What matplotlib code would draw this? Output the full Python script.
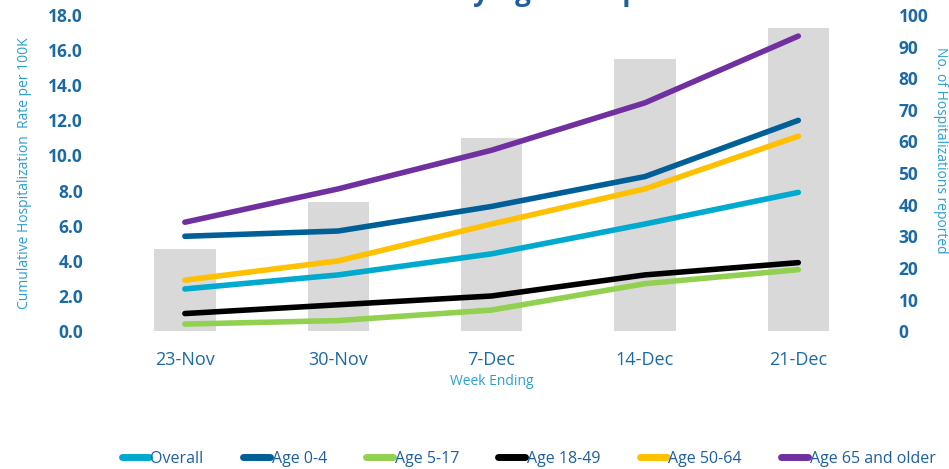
import matplotlib.pyplot as plt
from matplotlib.lines import Line2D
import numpy as np

weeks = ['23-Nov', '30-Nov', '7-Dec', '14-Dec', '21-Dec']
hosp_counts = [26, 41, 61, 86, 96]

series_names = ['Overall', 'Age 0-4', 'Age 5-17', 'Age 18-49', 'Age 50-64', 'Age 65 and older']
overall = [2.4, 3.2, 4.4, 6.1, 7.9]
age_0_4 = [5.4, 5.7, 7.1, 8.8, 12.0]
age_5_17 = [0.4, 0.6, 1.2, 2.7, 3.5]
age_18_49 = [1.0, 1.5, 2.0, 3.2, 3.9]
age_50_64 = [2.9, 4.0, 6.1, 8.1, 11.1]
age_65_up = [6.2, 8.1, 10.3, 13.0, 16.8]

colors = ['#00a9ce', '#005f96', '#92d050', '#000000', '#ffc000', '#7030a0']
tick_col = '#1b6aa5'
label_col = '#2a9fd0'

plt.rcParams['font.family'] = ['Open Sans', 'DejaVu Sans']

fig = plt.figure(figsize=(9.49, 4.69), dpi=100)
ax = fig.add_axes([0.114, 0.294, 0.808, 0.674])
ax2 = ax.twinx()
x = np.arange(len(weeks))

# bars on the secondary (right) scale, drawn behind the lines
ax.bar(x, hosp_counts, width=0.4, color='#d9d9d9', zorder=1)
ax.set_ylim(0, 100)
ax.set_xlim(-0.5, len(weeks) - 0.5)
ax.yaxis.tick_right()
ax.set_yticks(range(0, 101, 10))
fig.text(0.991, 0.68, 'No. of Hospitalizations reported', color=label_col, fontsize=10,
         rotation=270, ha='center', va='center')

# lines on the left scale
ax2.yaxis.tick_left()
ax2.yaxis.set_label_position('left')
for vals, c in zip([overall, age_0_4, age_5_17, age_18_49, age_50_64, age_65_up], colors):
    ax2.plot(x, vals, color=c, lw=4, solid_capstyle='round', solid_joinstyle='round')
ax2.set_ylim(0, 18)
ax2.set_yticks(np.arange(0, 18.1, 2))
ax2.set_yticklabels([f'{v:.1f}' for v in np.arange(0, 18.1, 2)])
ax2.set_ylabel('Cumulative Hospitalization  Rate per 100K', color=label_col, fontsize=10,
               labelpad=12)

ax.set_xticks(x)
ax.set_xticklabels(weeks)
ax.set_xlabel('Week Ending', color=label_col, fontsize=10, labelpad=4)

for a in (ax, ax2):
    for s in a.spines.values():
        s.set_visible(False)
    a.tick_params(length=0)
ax.tick_params(axis='x', pad=14, labelsize=13, labelcolor=tick_col)
ax.tick_params(axis='y', pad=17, labelsize=12.5, labelcolor=tick_col)
ax2.tick_params(axis='y', pad=18, labelsize=12.5, labelcolor=tick_col)
for lbl in ax.get_yticklabels() + ax2.get_yticklabels():
    lbl.set_fontweight('bold')

# title is cut off at the top edge of the image
fig.text(0.674, 1.0, 'Cumulative Rates by Age Group', ha='right', va='baseline',
         fontsize=20, fontweight='bold', color='#1f5fa0')

handles = [Line2D([], [], color=c, lw=5, solid_capstyle='round') for c in colors]
leg = fig.legend(handles, series_names, loc='center', bbox_to_anchor=(0.557, 0.022),
                 ncol=6, frameon=False, fontsize=11.5, handlelength=1.7,
                 handletextpad=0.1, columnspacing=2.45)
for t in leg.get_texts():
    t.set_color('#1f5fa0')

fig.savefig('out.png', dpi=100)
